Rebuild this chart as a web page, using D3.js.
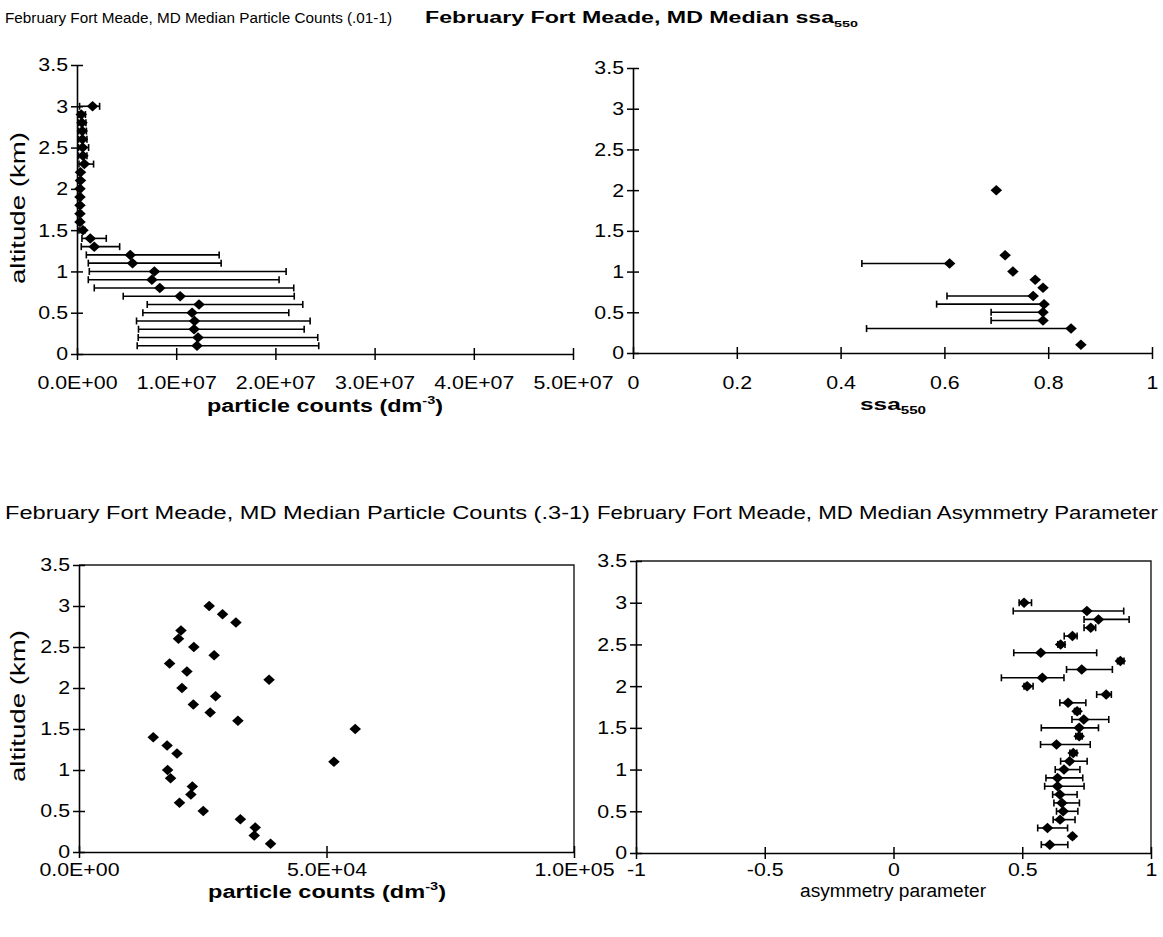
<!DOCTYPE html>
<html>
<head>
<meta charset="utf-8">
<script src="https://cdn.jsdelivr.net/npm/d3@7"></script>
<style>
  body { margin: 0; background: #fff; }
  svg { display: block; }
  text { font-family: "Liberation Sans", Arial, sans-serif; fill: #000; }
</style>
</head>
<body>
<svg id="chart" width="1163" height="937"></svg>
<script>
// ---- altitude levels (km) ----
const altFull = [0.1,0.2,0.3,0.4,0.5,0.6,0.7,0.8,0.9,1.0,1.1,1.2,1.3,1.4,1.5,
                 1.6,1.7,1.8,1.9,2.0,2.1,2.2,2.3,2.4,2.5,2.6,2.7,2.8,2.9,3.0];

// ---- Particle counts (.01-1 um), dm^-3 ----
const pcFineMedian = [1.21e7,1.22e7,1.18e7,1.185e7,1.16e7,1.23e7,1.04e7,0.835e7,0.755e7,0.78e7,
                      0.56e7,0.537e7,0.174e7,0.134e7,0.06e7,0.03e7,0.03e7,0.03e7,0.03e7,0.03e7,
                      0.035e7,0.035e7,0.074e7,0.06e7,0.057e7,0.055e7,0.053e7,0.05e7,0.043e7,0.157e7];
const pcFineLow    = [0.607e7,0.617e7,0.62e7,0.60e7,0.664e7,0.708e7,0.466e7,0.174e7,0.114e7,0.124e7,
                      0.114e7,0.094e7,0.043e7,0.05e7,0.02e7,0.01e7,0.01e7,0.01e7,0.01e7,0.01e7,
                      0.01e7,0.01e7,0.02e7,0.015e7,0.015e7,0.015e7,0.015e7,0.015e7,0.015e7,0.026e7];
const pcFineHigh   = [2.437e7,2.427e7,2.29e7,2.35e7,2.135e7,2.276e7,2.19e7,2.185e7,2.037e7,2.108e7,
                      1.453e7,1.433e7,0.43e7,0.295e7,0.08e7,0.045e7,0.045e7,0.045e7,0.045e7,0.045e7,
                      0.045e7,0.045e7,0.167e7,0.10e7,0.117e7,0.10e7,0.095e7,0.09e7,0.085e7,0.228e7];

// ---- Single scattering albedo at 550 nm ----
const ssaAlt    = [0.1,0.3,0.4,0.5,0.6,0.7,0.8,0.9,1.0,1.1,1.2,2.0];
const ssaMedian = [0.863,0.844,0.79,0.79,0.792,0.771,0.79,0.775,0.732,0.61,0.717,0.70];
const ssaLow    = [null,0.45,0.69,0.69,0.585,0.605,null,null,null,0.441,null,null];

// ---- Particle counts (.3-1 um), dm^-3 ----
const pcCoarse = [3.87e4,3.54e4,3.56e4,3.26e4,2.51e4,2.03e4,2.26e4,2.29e4,1.85e4,1.79e4,
                  5.15e4,1.98e4,1.78e4,1.50e4,5.58e4,3.21e4,2.65e4,2.31e4,2.76e4,2.08e4,
                  3.84e4,2.18e4,1.83e4,2.73e4,2.32e4,2.01e4,2.06e4,3.17e4,2.90e4,2.63e4];

// ---- Asymmetry parameter ----
const asymMedian = [0.607,0.695,0.598,0.647,0.659,0.654,0.646,0.637,0.637,0.662,
                    0.684,0.698,0.633,0.721,0.721,0.739,0.713,0.678,0.826,0.519,
                    0.578,0.731,0.881,0.572,0.649,0.695,0.766,0.796,0.751,0.507];
const asymLow    = [0.574,0.69,0.560,0.620,0.633,0.623,0.618,0.587,0.592,0.628,
                    0.649,0.685,0.571,0.708,0.574,0.693,0.703,0.646,0.789,0.507,
                    0.419,0.672,0.870,0.467,0.638,0.663,0.740,0.740,0.465,0.488];
const asymHigh   = [0.677,0.70,0.676,0.705,0.716,0.722,0.713,0.740,0.735,0.724,
                    0.752,0.712,0.764,0.733,0.796,0.836,0.725,0.747,0.846,0.542,
                    0.662,0.850,0.895,0.789,0.666,0.713,0.785,0.915,0.894,0.536];

// ---- tick values ----
const altTicks    = [0,0.5,1,1.5,2,2.5,3,3.5];
const pcFineTicks = [0,1e7,2e7,3e7,4e7,5e7];
const ssaTicks    = [0,0.2,0.4,0.6,0.8,1];
const pcCoarseTicks = [0,5e4,1e5];
const asymTicks   = [-1,-0.5,0,0.5,1];

const svg = d3.select("#chart");
const TICK_FS = 17.5, TICK_SX = 1.22;

const sciFmt = v => {
  if (v === 0) return "0.0E+00";
  const e = Math.floor(Math.log10(v));
  const m = v / Math.pow(10, e);
  return m.toFixed(1) + "E+" + String(e).padStart(2, "0");
};
// plain number with an ASCII hyphen for negatives
const plainFmt = v => String(v);

// diamond marker
const diamond = {
  draw(ctx, size) {
    const r = Math.sqrt(size) / 2;
    ctx.moveTo(0, -r); ctx.lineTo(r * 1.1, 0); ctx.lineTo(0, r); ctx.lineTo(-r * 1.1, 0); ctx.closePath();
  }
};
const markerPath = d3.symbol().type(diamond).size(110)();

function stretchText(sel, sx) {
  sel.each(function() {
    const t = d3.select(this);
    const x = +t.attr("x") || 0;
    t.attr("x", x / sx).attr("transform", `scale(${sx},1)`);
  });
}

function addText(g, str, opts) {
  const t = g.append("text")
    .attr("x", opts.x).attr("y", opts.y)
    .attr("font-size", opts.fs)
    .attr("font-weight", opts.bold ? "bold" : "normal")
    .attr("text-anchor", opts.anchor || "start");
  if (opts.rotate) t.attr("transform", `rotate(-90,${opts.x},${opts.y})`);
  (Array.isArray(str) ? str : [[str]]).forEach(([s, kind]) => {
    const ts = t.append("tspan").text(s);
    if (kind === "sup") ts.attr("font-size", opts.fs * 0.62).attr("dy", -opts.fs * 0.45);
    if (kind === "sub") ts.attr("font-size", opts.fs * 0.62).attr("dy", opts.fs * 0.25);
    if (kind === "after") ts.attr("dy", opts.fs * 0.45);
  });
  if (opts.width) t.attr("textLength", opts.width).attr("lengthAdjust", "spacingAndGlyphs");
  return t;
}

function panel(cfg) {
  const g = svg.append("g");
  const x = d3.scaleLinear().domain(cfg.xDomain).range([cfg.left, cfg.right]);
  const y = d3.scaleLinear().domain([0, 3.5]).range([cfg.bottom, cfg.top]);

  if (cfg.box) {
    g.append("path")
      .attr("d", `M${cfg.left},${cfg.top}H${cfg.right}V${cfg.bottom}`)
      .attr("fill", "none").attr("stroke", "#1a1a1a").attr("stroke-width", 1.4);
  }

  // x axis, ticks crossing the axis line
  const xa = g.append("g").attr("transform", `translate(0,${cfg.bottom})`)
    .call(d3.axisBottom(x).tickValues(cfg.xTicks).tickSizeOuter(0).tickSizeInner(6).tickFormat(cfg.xFmt));
  xa.selectAll(".tick line").attr("y1", -6).attr("stroke-width", 1.5);
  xa.select(".domain").attr("stroke-width", 1.6);
  xa.selectAll("text").attr("font-size", TICK_FS).attr("y", cfg.xLabelY).attr("dy", null)
    .attr("font-family", '"Liberation Sans", Arial, sans-serif').attr("fill", "#000");
  stretchText(xa.selectAll("text"), TICK_SX);

  // y axis
  const ya = g.append("g").attr("transform", `translate(${cfg.left},0)`)
    .call(d3.axisLeft(y).tickValues(altTicks).tickSizeOuter(0).tickSizeInner(6).tickFormat(plainFmt));
  ya.selectAll(".tick line").attr("x1", 6).attr("stroke-width", 1.5);
  ya.select(".domain").attr("stroke-width", 1.6);
  ya.selectAll("text").attr("font-size", TICK_FS).attr("x", -cfg.yLabelGap).attr("dy", "0.34em")
    .attr("font-family", '"Liberation Sans", Arial, sans-serif').attr("fill", "#000");
  stretchText(ya.selectAll("text"), TICK_SX);

  // error bars
  if (cfg.lo) {
    const eb = g.append("g").attr("stroke", "#000").attr("stroke-width", 1.6).attr("fill", "none");
    cfg.alt.forEach((a, i) => {
      const lo = cfg.lo[i];
      if (lo == null) return;
      const hi = cfg.hi ? cfg.hi[i] : cfg.val[i];
      const yy = y(a);
      eb.append("line").attr("x1", x(lo)).attr("x2", x(hi)).attr("y1", yy).attr("y2", yy);
      eb.append("line").attr("x1", x(lo)).attr("x2", x(lo)).attr("y1", yy - 3.5).attr("y2", yy + 3.5);
      if (cfg.hi) eb.append("line").attr("x1", x(hi)).attr("x2", x(hi)).attr("y1", yy - 3.5).attr("y2", yy + 3.5);
    });
  }

  // markers
  g.append("g").selectAll("path").data(cfg.alt.map((a, i) => [cfg.val[i], a])).join("path")
    .attr("d", markerPath)
    .attr("transform", d => `translate(${x(d[0])},${y(d[1])})`)
    .attr("fill", "#000");

  // titles
  addText(g, cfg.title, { x: cfg.titleX, y: cfg.titleY, fs: cfg.titleFs, bold: cfg.titleBold, width: cfg.titleW });
  addText(g, cfg.xTitle, { x: cfg.xTitleX, y: cfg.xTitleY, fs: cfg.xTitleFs, bold: cfg.xTitleBold, anchor: "middle", width: cfg.xTitleW });
  if (cfg.yTitle) addText(g, cfg.yTitle, { x: cfg.yTitleX, y: cfg.yTitleY, fs: 20, anchor: "middle", rotate: true, width: 152 });
}

const pcTitle = [["particle counts (dm"], ["-3", "sup"], [")", "after"]];

panel({
  alt: altFull, val: pcFineMedian, lo: pcFineLow, hi: pcFineHigh,
  xDomain: [0, 5e7], xTicks: pcFineTicks, xFmt: sciFmt,
  left: 77, right: 573, top: 65, bottom: 354, box: false,
  xLabelY: 35, yLabelGap: 9,
  title: "February Fort Meade, MD Median Particle Counts (.01-1)", titleX: 5, titleY: 23, titleFs: 15.5, titleW: 387,
  xTitle: pcTitle, xTitleX: 325, xTitleY: 412, xTitleFs: 18, xTitleBold: true, xTitleW: 236,
  yTitle: "altitude (km)", yTitleX: 25, yTitleY: 208
});

panel({
  alt: ssaAlt, val: ssaMedian, lo: ssaLow,
  xDomain: [0, 1], xTicks: ssaTicks, xFmt: plainFmt,
  left: 633, right: 1152, top: 68, bottom: 353, box: false,
  xLabelY: 36, yLabelGap: 9,
  title: [["February Fort Meade, MD Median ssa"], ["550", "sub"]], titleX: 425, titleY: 23, titleFs: 16, titleBold: true, titleW: 433,
  xTitle: [["ssa"], ["550", "sub"]], xTitleX: 893, xTitleY: 410, xTitleFs: 17, xTitleBold: true, xTitleW: 66
});

panel({
  alt: altFull, val: pcCoarse,
  xDomain: [0, 1e5], xTicks: pcCoarseTicks, xFmt: sciFmt,
  left: 79, right: 574, top: 565, bottom: 852, box: true,
  xLabelY: 24, yLabelGap: 9,
  title: "February Fort Meade, MD Median Particle Counts (.3-1)", titleX: 5, titleY: 519, titleFs: 17.5, titleW: 585,
  xTitle: pcTitle, xTitleX: 327, xTitleY: 898, xTitleFs: 18, xTitleBold: true, xTitleW: 238,
  yTitle: "altitude (km)", yTitleX: 25, yTitleY: 706
});

panel({
  alt: altFull, val: asymMedian, lo: asymLow, hi: asymHigh,
  xDomain: [-1, 1], xTicks: asymTicks, xFmt: plainFmt,
  left: 636, right: 1151, top: 561, bottom: 853, box: true,
  xLabelY: 23, yLabelGap: 9,
  title: "February Fort Meade, MD Median Asymmetry Parameter", titleX: 597, titleY: 519, titleFs: 17.5, titleW: 561,
  xTitle: "asymmetry parameter", xTitleX: 893, xTitleY: 897, xTitleFs: 18, xTitleW: 186
});
</script>
</body>
</html>
